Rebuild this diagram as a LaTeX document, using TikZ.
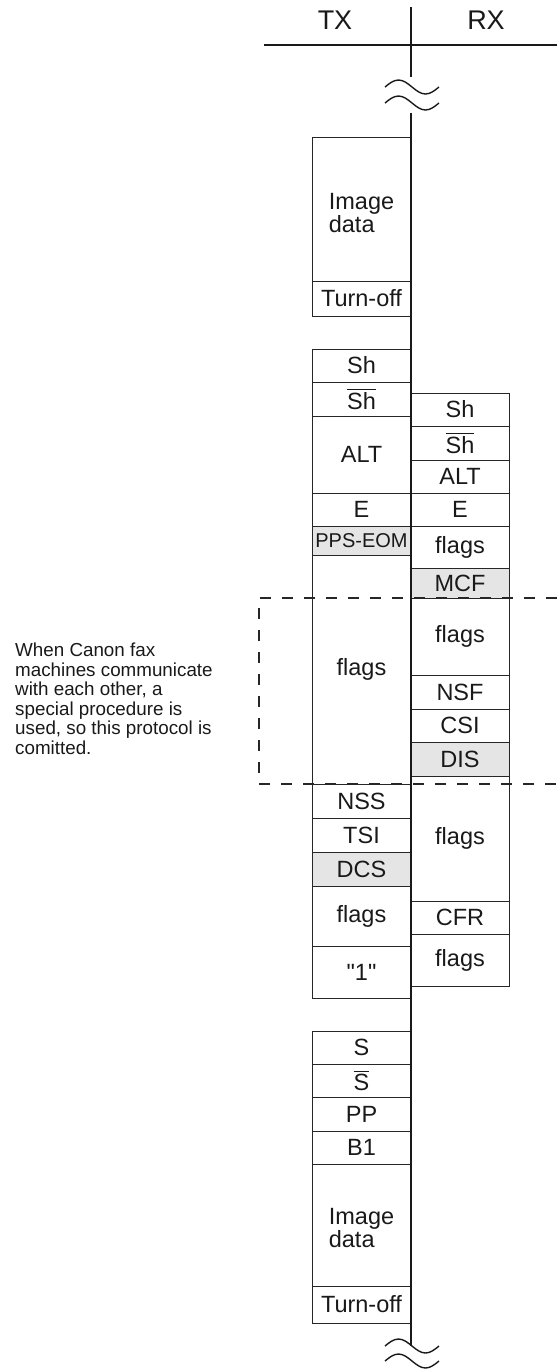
\documentclass[tikz,border=0pt]{standalone}
\usepackage{fontspec}
\setmainfont{Liberation Sans}
\newfontfamily\plainfont{Liberation Sans}
\newcommand\ovl[1]{\vbox{\hrule height 1.1pt\kern 2.2pt\hbox{#1}}}
\tikzset{
  cell/.style={draw=black!85, line width=0.9pt, inner sep=0pt, minimum width=98pt,
    font=\fontsize{23.5}{25}\selectfont, text=black!90},
  grey/.style={fill=black!10},
  small/.style={font=\fontsize{20}{21}\selectfont},
  lbl/.style={font=\fontsize{23.5}{23}\selectfont, align=left, inner sep=0pt, text=black!90},
  axis/.style={line width=2pt, draw=black!90},
  hline/.style={line width=1.5pt, draw=black!90},
  wave/.style={line width=1.4pt, draw=black!90},
  dashbox/.style={line width=1.3pt, draw=black!85, dash pattern=on 11pt off 11pt},
  hdr/.style={font=\fontsize{27}{29}\selectfont, text=black!90},
  note/.style={font=\fontsize{18.8}{19.5}\selectfont, align=left, anchor=west, inner sep=0pt, text=black!90}
}
\newcommand\txc[4]{\node[cell, minimum height={#3-#2}, minimum width=99pt] (#1) at (361.5,{(#2+#3)/2}) {#4};}
\newcommand\rxc[4]{\node[cell, minimum height={#3-#2}] (#1) at (460,{(#2+#3)/2}) {#4};}
\newcommand\txg[4]{\node[cell, grey, minimum height={#3-#2}, minimum width=99pt] (#1) at (361.5,{(#2+#3)/2}) {#4};}
\newcommand\rxg[4]{\node[cell, grey, minimum height={#3-#2}] (#1) at (460,{(#2+#3)/2}) {#4};}
\newcommand\wavy[2]{\draw[wave] (#1,#2) sin ++(13.5,-7) cos ++(13.5,7) sin ++(13.5,7) cos ++(13.5,-7);}
\begin{document}
\begin{tikzpicture}[x=1pt,y=-1pt]
\path[use as bounding box] (0,0) rectangle (557,1369);
% header
\node[hdr] (tx) at (335,20) {TX};
\node[hdr] (rx) at (486,20) {RX};
\coordinate (hl) at (264,45);
\coordinate (hr) at (557,45);
\draw[hline] (hl) -- (hr);
% TX column
\txc{img1}{137}{281}{}
\node[lbl] (img1t) at ([yshift=-4.5pt]img1.center) {Image\\data};
\txc{toff1}{281}{316}{Turn-off}
\txc{sh1}{349}{382}{Sh}
\txc{shb1}{382}{416}{\ovl{Sh}}
\txc{alt1}{416}{493}{ALT}
\txc{e1}{493}{526}{E}
\node[cell, grey, small, minimum height=29, minimum width=99pt] (pps) at (361.5,540.5) {PPS-EOM};
\txc{flt1}{555}{784}{flags}
\txc{nss}{784}{818}{NSS}
\txc{tsi}{818}{852}{TSI}
\txg{dcs}{852}{886}{DCS}
\txc{flt2}{886}{946}{flags}
\txc{one}{946}{998}{{\plainfont "1"}}
\txc{s}{1031}{1064}{S}
\txc{sb}{1064}{1097}{\ovl{S}}
\txc{pp}{1097}{1131}{PP}
\txc{b1}{1131}{1164}{B1}
\txc{img2}{1164}{1286}{}
\node[lbl] (img2t) at ([yshift=-3.5pt]img2.center) {Image\\data};
\txc{toff2}{1286}{1323}{Turn-off}
% RX column
\rxc{sh2}{393}{426}{Sh}
\rxc{shb2}{426}{460}{\ovl{Sh}}
\rxc{alt2}{460}{493}{ALT}
\rxc{e2}{493}{526}{E}
\rxc{flr1}{526}{568}{flags}
\rxg{mcf}{568}{598}{MCF}
\rxc{flr2}{598}{675}{flags}
\rxc{nsf}{675}{709}{NSF}
\rxc{csi}{709}{742}{CSI}
\rxg{dis}{742}{776}{DIS}
\rxc{flr3}{776}{901}{flags}
\rxc{cfr}{901}{934}{CFR}
\rxc{flr4}{934}{986}{flags}
% center axis
\coordinate (a0) at (411,7);
\coordinate (a1) at (411,77);
\coordinate (a2) at (411,113);
\coordinate (a3) at (411,1346);
\draw[axis] (a0) -- (a1);
\draw[axis] (a2) -- (a3);
\wavy{385}{87}
\wavy{385}{103}
\wavy{385}{1346}
\wavy{385}{1361}
% dashed region
\coordinate (d1) at (557,598);
\coordinate (d2) at (259,598);
\coordinate (d3) at (259,784);
\coordinate (d4) at (557,784);
\draw[dashbox] (d1) -- (d2) -- (d3) -- (d4);
% note
\node[note] (note) at (15,699) {When Canon fax\\machines communicate\\with each other, a\\special procedure is\\used, so this protocol is\\comitted.};
\end{tikzpicture}
\end{document}
